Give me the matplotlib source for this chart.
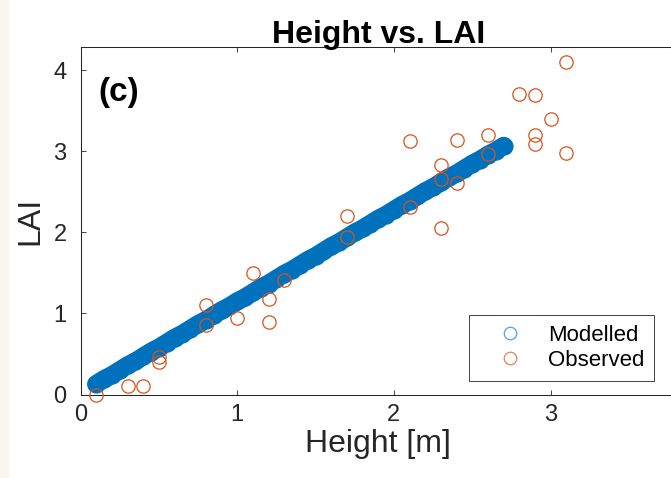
import matplotlib
matplotlib.use("Agg")
import matplotlib.pyplot as plt
from matplotlib.lines import Line2D
from matplotlib.patches import Rectangle

plt.rcParams['font.family'] = ['Liberation Sans', 'DejaVu Sans']

# Modelled (dense line of points)
mod_height = [0.10, 0.15, 0.20, 0.25, 0.30, 0.35, 0.40, 0.45, 0.50, 0.55,
              0.60, 0.65, 0.70, 0.75, 0.80, 0.85, 0.90, 0.95, 1.00, 1.05,
              1.10, 1.15, 1.20, 1.25, 1.30, 1.35, 1.40, 1.45, 1.50, 1.55,
              1.60, 1.65, 1.70, 1.75, 1.80, 1.85, 1.90, 1.95, 2.00, 2.05,
              2.10, 2.15, 2.20, 2.25, 2.30, 2.35, 2.40, 2.45, 2.50, 2.55,
              2.60, 2.65, 2.70]
mod_lai = [0.13, 0.19, 0.24, 0.30, 0.36, 0.41, 0.47, 0.53, 0.58, 0.64,
           0.70, 0.75, 0.81, 0.87, 0.92, 0.98, 1.04, 1.09, 1.15, 1.20,
           1.26, 1.32, 1.37, 1.43, 1.49, 1.54, 1.60, 1.66, 1.71, 1.77,
           1.83, 1.88, 1.94, 2.00, 2.05, 2.11, 2.17, 2.22, 2.28, 2.34,
           2.39, 2.45, 2.51, 2.56, 2.62, 2.68, 2.73, 2.79, 2.85, 2.90,
           2.96, 3.01, 3.07]

# Observed
obs_height = [0.1, 0.3, 0.4, 0.5, 0.5, 0.8, 0.8, 1.0, 1.1, 1.2, 1.2, 1.3,
              1.7, 1.7, 2.1, 2.1, 2.3, 2.3, 2.3, 2.4, 2.4, 2.6, 2.6,
              2.8, 2.9, 2.9, 2.9, 3.0, 3.1, 3.1]
obs_lai = [0.00, 0.10, 0.10, 0.46, 0.40, 1.10, 0.86, 0.95, 1.50, 1.18, 0.89, 1.41,
           1.94, 2.20, 3.13, 2.32, 2.83, 2.66, 2.06, 3.14, 2.61, 3.20, 2.97,
           3.71, 3.70, 3.20, 3.09, 3.40, 4.11, 2.98]

x_ticks = [0, 1, 2, 3]
y_ticks = [0, 1, 2, 3, 4]

blue = '#0072BD'
orange = '#D95319'
axcol = '#262626'

fig = plt.figure(figsize=(6.71, 4.78), dpi=100)
fig.patches.append(Rectangle((0, 0), 9 / 671, 1, transform=fig.transFigure,
                             facecolor='#f7f7f0', edgecolor='none', zorder=-1))
ax = fig.add_axes([80.5 / 671, 1 - 394.5 / 478, 595.5 / 671, 347.5 / 478])

# dense modelled points: smooth band through the points plus the circle markers
ax.plot(mod_height, mod_lai, linestyle='-', linewidth=13.0, color=blue,
        solid_capstyle='round', zorder=2)
ax.plot(mod_height, mod_lai, linestyle='none', marker='o', markersize=12.3,
        markerfacecolor=blue, markeredgecolor=blue, markeredgewidth=0.8, zorder=2)
ax.plot(obs_height, obs_lai, linestyle='none', marker='o', markersize=9.6,
        markerfacecolor='none', markeredgecolor=orange, markeredgewidth=0.9, zorder=3,
        clip_on=False)

ax.set_xlim(0, 3.8)
ax.set_ylim(0, 4.29)
ax.set_xticks(x_ticks)
ax.set_yticks(y_ticks)
ax.tick_params(direction='in', length=3.6, width=0.6, colors=axcol,
               labelsize=17, top=True, right=True)
ax.tick_params(axis='x', pad=7)
ax.tick_params(axis='y', pad=10)
for s in ax.spines.values():
    s.set_color(axcol)
    s.set_linewidth(0.75)

ax.set_title('Height vs. LAI', fontsize=23, fontweight='bold', pad=3, color='black',
             x=0.5)
ax.set_xlabel('Height [m]', fontsize=23, color=axcol, labelpad=2)
ax.set_ylabel('LAI', fontsize=23, color=axcol, labelpad=6)

ax.text(98 / 671, 1 - 101 / 478, '(c)', transform=fig.transFigure,
        fontsize=24, fontweight='bold', ha='left', va='baseline')

handles = [Line2D([], [], linestyle='none', marker='o', markersize=9,
                  markerfacecolor='none', markeredgecolor='#4DA3DF', markeredgewidth=0.9),
           Line2D([], [], linestyle='none', marker='o', markersize=9,
                  markerfacecolor='none', markeredgecolor='#E0845A', markeredgewidth=0.9)]
leg = ax.legend(handles, ['Modelled', 'Observed'], loc='lower right',
                bbox_to_anchor=(654.3 / 671, 1 - 381 / 478), bbox_transform=fig.transFigure,
                borderaxespad=0, fontsize=16, handlelength=2.77, handletextpad=0.34,
                labelspacing=0.2, borderpad=0.45, fancybox=False, framealpha=1,
                edgecolor=axcol)
leg.get_frame().set_linewidth(0.6)

fig.savefig('out.png', dpi=100)
